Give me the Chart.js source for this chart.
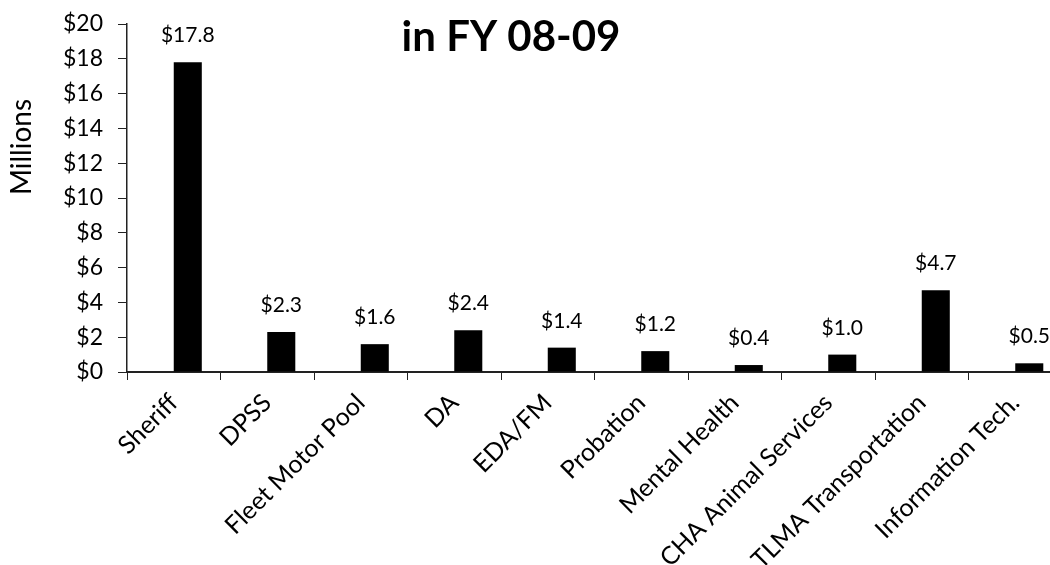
<!DOCTYPE html>
<html lang="en">
<head>
    <meta charset="UTF-8">
    <title>FY 08-09</title>
    <script src="https://cdn.jsdelivr.net/npm/chart.js"></script>
    <style>
        html, body { margin: 0; padding: 0; background: #fff; overflow: hidden; }
        #wrap { width: 1050px; height: 565px; overflow: hidden; }
        #grafico { display: block; }
    </style>
</head>
<body>
    <div id="wrap">
        <canvas id="grafico" width="1066" height="565"></canvas>
    </div>
<script>
    // dados do grafico
    var categorias = ['Sheriff', 'DPSS', 'Fleet Motor Pool', 'DA', 'EDA/FM', 'Probation',
        'Mental Health', 'CHA Animal Services', 'TLMA Transportation', 'Information Tech.'];
    var valores = [17.8, 2.3, 1.6, 2.4, 1.4, 1.2, 0.4, 1.0, 4.7, 0.5];
    // serie vazia que ocupa o lado esquerdo de cada categoria
    var serieVazia = [null, null, null, null, null, null, null, null, null, null];
    var titulo = 'in FY 08-09';
    var tituloEixoY = 'Millions';

    var fonte = 'Lato, "Open Sans", sans-serif';

    // rotulos de valor em cima das barras + titulo e eixo Y
    var textos = {
        id: 'textos',
        afterDatasetsDraw: function (chart) {
            var ctx = chart.ctx;
            var meta = chart.getDatasetMeta(1);
            ctx.save();
            ctx.fillStyle = '#000';
            ctx.font = '21px ' + fonte;
            ctx.textAlign = 'center';
            ctx.textBaseline = 'alphabetic';
            meta.data.forEach(function (bar, i) {
                ctx.fillText('$' + valores[i].toFixed(1), bar.x, bar.y - 20);
            });

            ctx.font = 'bold 42px ' + fonte;
            ctx.fillText(titulo, 511, 51);

            ctx.translate(22, 147);
            ctx.rotate(-Math.PI / 2);
            ctx.font = '28px ' + fonte;
            ctx.textBaseline = 'middle';
            ctx.fillText(tituloEixoY, 0, 0);
            ctx.restore();
        }
    };

    new Chart(document.getElementById('grafico'), {
        type: 'bar',
        data: {
            labels: categorias,
            datasets: [{
                label: 'vazio',
                data: serieVazia,
                backgroundColor: 'rgba(0,0,0,0)'
            }, {
                label: 'FY 08-09',
                data: valores,
                backgroundColor: '#000',
                borderWidth: 0
            }]
        },
        options: {
            responsive: false,
            animation: false,
            categoryPercentage: 0.6,
            barPercentage: 1.0,
            layout: { padding: { top: 24, right: 4, left: 0, bottom: 0 } },
            plugins: {
                legend: { display: false },
                tooltip: { enabled: false }
            },
            scales: {
                x: {
                    grid: {
                        drawOnChartArea: false,
                        drawTicks: true,
                        tickLength: 8,
                        color: '#222'
                    },
                    border: { color: '#222', width: 2 },
                    ticks: {
                        color: '#000',
                        font: { size: 25, family: fonte },
                        minRotation: 45,
                        maxRotation: 45,
                        padding: 8,
                        autoSkip: false
                    },
                    afterFit: function (s) { s.height = 565 - 372; }
                },
                y: {
                    min: 0,
                    max: 20,
                    grid: {
                        drawOnChartArea: false,
                        drawTicks: true,
                        tickLength: 9,
                        color: '#222'
                    },
                    border: { color: '#222', width: 1.5 },
                    ticks: {
                        stepSize: 2,
                        color: '#000',
                        font: { size: 23, family: fonte },
                        padding: 15,
                        callback: function (v) { return '$' + v; }
                    },
                    afterFit: function (s) {
                        s.width = 127;
                        s.paddingTop = 0;
                        s.paddingBottom = 0;
                    }
                }
            }
        },
        plugins: [textos]
    });
</script>
</body>
</html>
